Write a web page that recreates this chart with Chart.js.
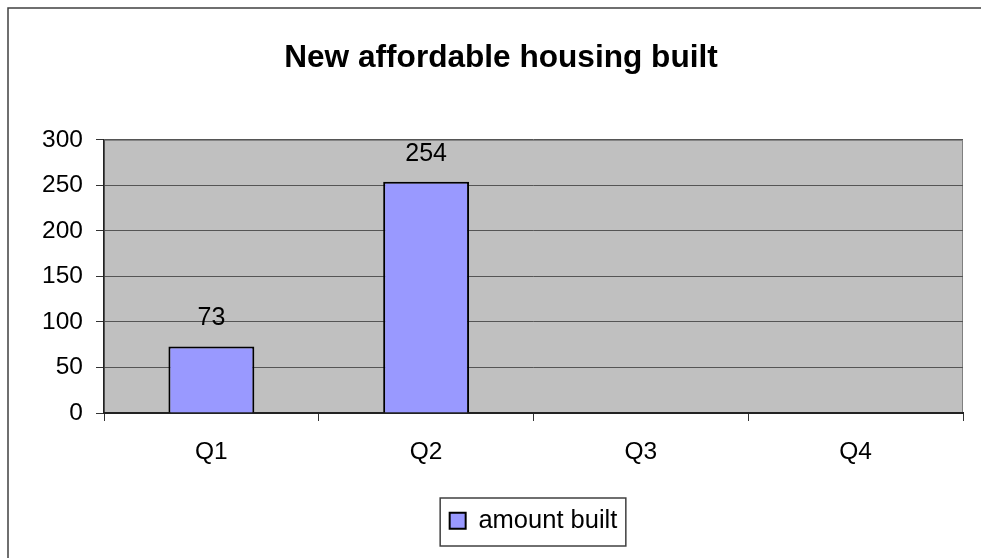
<!DOCTYPE html>
<html>
<head>
<meta charset="utf-8">
<script src="https://cdn.jsdelivr.net/npm/chart.js@4/dist/chart.umd.min.js"></script>
<style>
  html, body { margin: 0; padding: 0; background: #fff; overflow: hidden; }
  #wrap { width: 981px; height: 558px; overflow: hidden; position: relative; }
  canvas { display: block; }
</style>
</head>
<body>
<div id="wrap"><canvas id="housing-chart" width="1002" height="558"></canvas></div>
<script>
const quarters = ['Q1', 'Q2', 'Q3', 'Q4'];
const amountBuilt = [73, 254, null, null];
const seriesName = 'amount built';
const chartTitle = 'New affordable housing built';

Chart.defaults.font.family = 'Arial, "Liberation Sans", sans-serif';
Chart.defaults.color = '#000';

// grey plot area, outer frame, bar value labels, legend frame
const decorations = {
  id: 'decorations',
  beforeDraw(chart) {
    const { ctx, chartArea: a } = chart;
    ctx.save();
    ctx.fillStyle = '#c0c0c0';
    ctx.fillRect(a.left, a.top, a.right - a.left, a.bottom - a.top);
    ctx.strokeStyle = '#808080';
    ctx.lineWidth = 1;
    ctx.strokeRect(a.left + 0.5, a.top + 0.5, a.right - a.left - 1, a.bottom - a.top);
    // outer chart frame, only left and top edges are in view
    ctx.strokeStyle = '#404040';
    ctx.lineWidth = 1.5;
    ctx.beginPath();
    ctx.moveTo(8, chart.height);
    ctx.lineTo(8, 8);
    ctx.lineTo(chart.width, 8);
    ctx.stroke();
    ctx.restore();
  },
  afterDatasetsDraw(chart) {
    const { ctx } = chart;
    const meta = chart.getDatasetMeta(0);
    ctx.save();
    ctx.font = '25px Arial, "Liberation Sans", sans-serif';
    ctx.fillStyle = '#000';
    ctx.textAlign = 'center';
    ctx.textBaseline = 'middle';
    meta.data.forEach((bar, i) => {
      const v = amountBuilt[i];
      if (v == null) return;
      ctx.fillText(String(v), bar.x, bar.y - 28);
    });
    ctx.restore();
  },
  afterDraw(chart) {
    const lg = chart.legend;
    if (!lg || !lg.legendHitBoxes.length) return;
    const hb = lg.legendHitBoxes[0];
    const { ctx } = chart;
    ctx.save();
    ctx.strokeStyle = '#404040';
    ctx.lineWidth = 1.5;
    const x0 = hb.left - 9.5, x1 = hb.left + hb.width + 8.5;
    ctx.strokeRect(x0, lg.top, x1 - x0, 48);
    ctx.restore();
  }
};

new Chart(document.getElementById('housing-chart'), {
  type: 'bar',
  data: {
    labels: quarters,
    datasets: [{
      label: seriesName,
      data: amountBuilt,
      backgroundColor: '#9999ff',
      borderColor: '#000',
      borderWidth: 2,
      barPercentage: 0.4,
      categoryPercentage: 1
    }]
  },
  options: {
    responsive: false,
    animation: false,
    devicePixelRatio: 1,
    layout: { padding: { left: 39, right: 39, top: 0, bottom: 14.5 } },
    plugins: {
      title: {
        display: true,
        text: chartTitle,
        font: { size: 31.6, weight: 'bold' },
        color: '#000',
        padding: { top: 39, bottom: 63 }
      },
      legend: {
        position: 'bottom',
        fullSize: false,
        labels: {
          boxWidth: 16,
          boxHeight: 16,
          padding: 10,
          color: '#000',
          font: { size: 25.5 }
        }
      },
      tooltip: { enabled: false }
    },
    scales: {
      x: {
        grid: {
          offset: true,
          drawOnChartArea: false,
          tickLength: 8,
          tickColor: '#333'
        },
        border: { color: '#222', width: 2 },
        ticks: { font: { size: 24.5 }, color: '#000', padding: 17 },
        afterFit(scale) { scale.height = 85; }
      },
      y: {
        min: 0,
        max: 300,
        ticks: { stepSize: 50, font: { size: 24.5 }, color: '#000', padding: 13 },
        grid: { color: '#555', tickLength: 8, tickColor: '#333' },
        border: { color: '#222', width: 1.5 },
        afterFit(scale) { scale.width = 65; }
      }
    }
  },
  plugins: [decorations]
});
</script>
</body>
</html>
